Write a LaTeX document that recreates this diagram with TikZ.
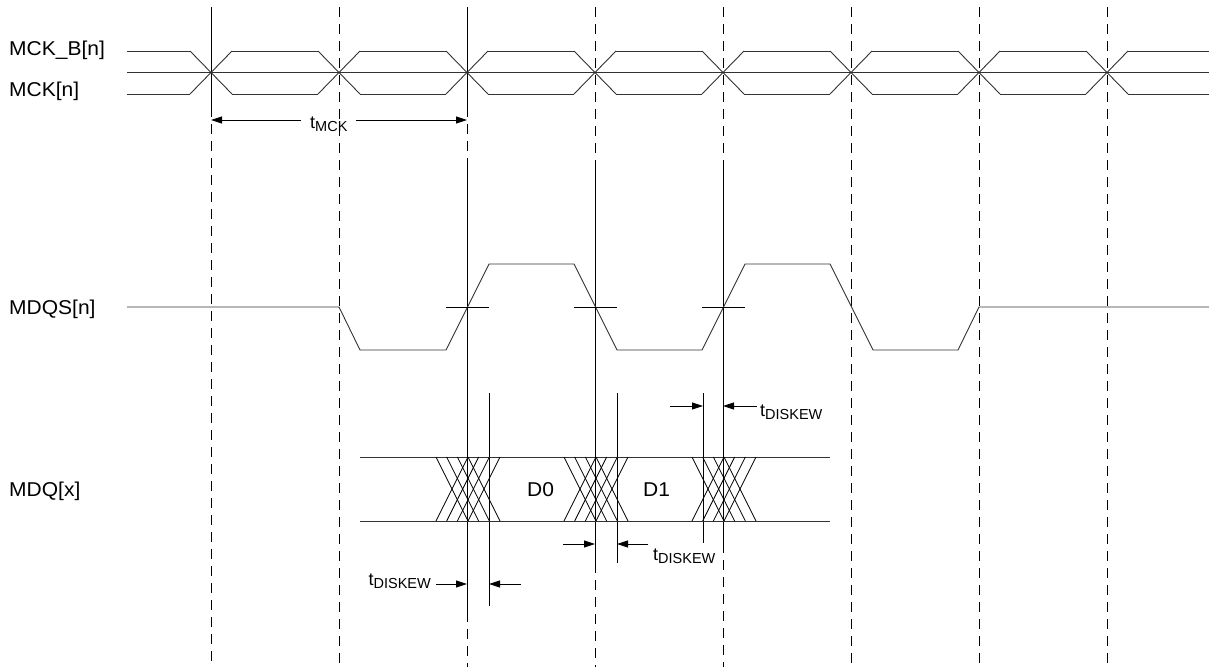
\documentclass[tikz,border=0pt]{standalone}
\usepackage{fontspec}
\setmainfont{Liberation Sans}
\newfontfamily\widefont{Liberation Sans}[FakeStretch=1.05]
\usetikzlibrary{arrows.meta, positioning, calc}
\definecolor{wavegray}{RGB}{50,50,50}

\tikzset{
  wave/.style={wavegray, line width=0.9pt},
  guide/.style={black, line width=0.8pt},
  guidedash/.style={black, line width=0.8pt, dash pattern=on 10pt off 7pt},
  dimarr/.style={-{Triangle[length=11pt,width=7pt]}, line width=0.8pt},
  siglabel/.style={anchor=base west, inner sep=0pt, font=\widefont\fontsize{20}{24}\selectfont},
  skewlabel/.style={inner sep=0pt, font=\fontsize{18}{20}\selectfont}
}
\newcommand{\tsub}[1]{t\raisebox{-0.2em}{\fontsize{14.5}{15}\selectfont #1}}

\begin{document}
\begin{tikzpicture}[x=1pt, y=-1pt]
        \useasboundingbox (0,0) rectangle (1209,667);

        % Signal names
        \node[siglabel] (mckb) at (9,55)  {MCK\_B[n]};
        \node[siglabel] (mck)  at (9,96)  {MCK[n]};
        \node[siglabel] (mdqs) at (9,314) {MDQS[n]};
        \node[siglabel] (mdq)  at (9,496) {MDQ[x]};

        % Guide lines, dashed
        \foreach \x in {339, 851, 979, 1107}
            \draw[guidedash] (\x,7) -- (\x,667);
        \draw[guidedash] (211,107) -- (211,667);
        \draw[guidedash] (467,107) -- (467,168);
        \draw[guidedash] (467,612) -- (467,667);
        \draw[guidedash] (595,7) -- (595,168);
        \draw[guidedash] (595,563) -- (595,667);
        \draw[guidedash] (723,7) -- (723,168);
        \draw[guidedash] (723,543) -- (723,667);

        % Guide lines, solid
        \foreach \x/\a/\b in {211/7/107, 467/7/107, 467/168/612, 595/168/563,
                              723/168/543, 489/393/606, 617/393/563, 703/393/543}
            \draw[guide] (\x,\a) -- (\x,\b);

        % Clock pair
        \draw[wave] (127,72) -- (1209,72);
        \draw[wave] (127,51) -- (190,51);
        \draw[wave] (127,94) -- (190,94);
        \foreach \c in {211, 339, 467, 595, 723, 851, 979, 1107} {
            \draw[wave] (\c-21,51) -- (\c+21,94);
            \draw[wave] (\c-21,94) -- (\c+21,51);
        }
        \foreach \c in {232, 360, 488, 616, 744, 872, 1000} {
            \draw[wave] (\c,51) -- (\c+86,51);
            \draw[wave] (\c,94) -- (\c+86,94);
        }
        \draw[wave] (1128,51) -- (1209,51);
        \draw[wave] (1128,94) -- (1209,94);

        % tMCK
        \node[skewlabel, anchor=base west] (tmck) at (310,128) {\tsub{MCK}};
        \coordinate (tmckl) at (211,120);
        \coordinate (tmckr) at (467,120);
        \draw[dimarr] ([xshift=-9pt]tmck.west |- tmckl) -- (tmckl);
        \draw[dimarr] ([xshift=8pt]tmck.east |- tmckr) -- (tmckr);

        % Strobe
        \draw[wave] (127,307) -- (339,307) -- (360,350) -- (446,350) -- (489,264)
            -- (574,264) -- (617,350) -- (702,350) -- (745,264) -- (830,264)
            -- (873,350) -- (958,350) -- (979,307) -- (1209,307);
        \foreach \x in {467, 595, 723}
            \draw[guide] (\x-21,307) -- (\x+22,307);

        % Data eye
        \draw[wave] (360,457) -- (830,457);
        \draw[wave] (360,521) -- (830,521);
        \foreach \g in {436, 564, 692}
            \foreach \o in {0, 10.67, 21.33, 32} {
                \draw[guide] (\g+\o,457) -- (\g+\o+32,521);
                \draw[guide] (\g+\o+32,457) -- (\g+\o,521);
            }
        \node[siglabel] (dzero) at (527,496) {D0};
        \node[siglabel] (done)  at (643,496) {D1};

        % tDISKEW, first edge
        \node[skewlabel, anchor=base east] (skewa) at (431,585) {\tsub{DISKEW}};
        \coordinate (skewal) at (467,584);
        \coordinate (skewar) at (489,584);
        \draw[dimarr] ([xshift=5pt]skewa.east |- skewal) -- (skewal);
        \draw[dimarr] (521,584) -- (skewar);

        % tDISKEW, second edge
        \node[skewlabel, anchor=base west] (skewb) at (653,560) {\tsub{DISKEW}};
        \coordinate (skewbl) at (595,544);
        \coordinate (skewbr) at (617,544);
        \draw[dimarr] (563,544) -- (skewbl);
        \draw[dimarr] (648,544) -- (skewbr);

        % tDISKEW, third edge
        \node[skewlabel, anchor=base west] (skewc) at (760,416) {\tsub{DISKEW}};
        \coordinate (skewcl) at (703,406);
        \coordinate (skewcr) at (723,406);
        \draw[dimarr] (670,406) -- (skewcl);
        \draw[dimarr] ([xshift=-3pt]skewc.west |- skewcr) -- (skewcr);
    \end{tikzpicture}
\end{document}
